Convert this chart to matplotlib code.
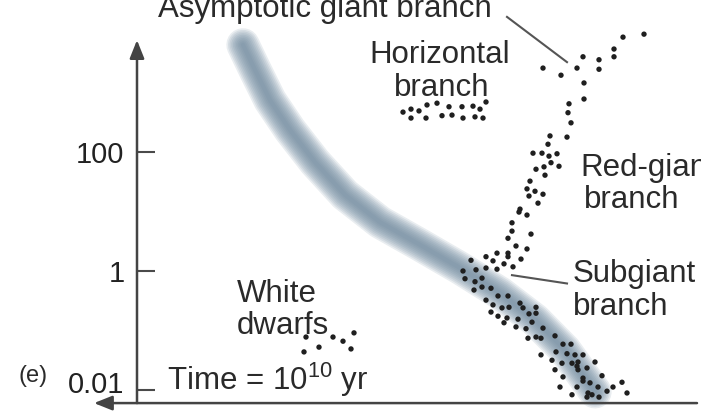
import matplotlib.pyplot as plt
import matplotlib.transforms as mtransforms
import numpy as np
from matplotlib.ticker import NullLocator

plt.rcParams['font.family'] = ['Liberation Sans', 'DejaVu Sans']
plt.rcParams['mathtext.fontset'] = 'custom'
plt.rcParams['mathtext.rm'] = 'Liberation Sans'

# x: arbitrary colour / temperature units, y: log10 luminosity (solar)
agb_x = [48.6, 50.7, 47.7, 47.7, 44.6, 46.2, 46.2, 40.6, 42.4, 44.0, 44.7, 44.7, 43.2]
agb_logL = [3.93, 3.98, 3.73, 3.60, 3.60, 3.55, 3.39, 3.41, 3.29, 3.41, 3.16, 2.89, 2.81]

rgb_x = [43.1, 43.4, 43.0, 41.3, 41.1, 39.6, 40.5, 41.2, 42.0, 41.4, 42.2, 39.9, 40.7,
         40.8, 39.3, 39.0, 39.8, 40.6, 39.2, 40.1, 38.3, 38.2, 39.0, 37.5, 37.5, 39.4,
         37.1, 37.9, 39.0, 37.1, 37.1, 36.0, 38.4, 34.9, 35.6, 36.7, 37.6, 36.0, 34.9,
         33.9, 33.4]
rgb_logL = [2.66, 2.49, 2.25, 2.27, 2.13, 1.98, 1.98, 1.93, 1.97, 1.82, 1.76, 1.71, 1.75,
            1.61, 1.51, 1.38, 1.34, 1.29, 1.26, 1.14, 1.04, 0.99, 0.94, 0.81, 0.67, 0.62,
            0.55, 0.42, 0.37, 0.30, 0.24, 0.30, 0.20, 0.24, 0.17, 0.12, 0.07, 0.03, 0.05,
            0.02, 0.18]

hb_x = [26.6, 27.4, 28.2, 29.0, 30.0, 31.2, 32.5, 33.6, 34.3, 34.9,
        27.4, 28.9, 30.5, 31.5, 32.6, 33.8, 34.6]
hb_logL = [2.67, 2.72, 2.69, 2.79, 2.82, 2.76, 2.76, 2.77, 2.72, 2.84,
           2.57, 2.57, 2.61, 2.62, 2.57, 2.59, 2.57]

wd_x = [16.9, 19.6, 20.6, 21.7, 16.7, 18.2, 21.4]
wd_logL = [-1.11, -1.11, -1.18, -1.04, -1.36, -1.28, -1.31]

ms_x = [32.6, 32.8, 33.8, 34.5, 34.5, 33.7, 35.4, 36.1, 37.1, 34.9, 35.6, 36.5, 37.2,
        38.3, 38.6, 39.9, 35.4, 36.1, 37.0, 39.2, 39.9, 38.1, 36.7, 37.9, 39.5, 38.9,
        40.6, 39.9, 39.1, 40.4, 41.8, 42.6, 43.4, 41.9, 40.4, 43.0, 43.8, 44.6, 41.5,
        42.5, 43.5, 44.1, 44.0, 45.8, 45.0, 41.8, 44.1, 42.6, 44.6, 46.5, 44.6, 45.3,
        48.5, 42.3, 44.0, 46.1, 47.6, 47.0, 45.1, 43.5, 45.5, 49.0, 46.2, 45.0]
ms_logL = [0.00, -0.13, -0.18, -0.12, -0.27, -0.32, -0.29, -0.42, -0.42, -0.49, -0.57,
           -0.62, -0.61, -0.54, -0.62, -0.61, -0.69, -0.76, -0.79, -0.72, -0.71, -0.81,
           -0.87, -0.94, -0.86, -0.97, -0.96, -1.11, -1.13, -1.13, -1.09, -1.23, -1.23,
           -1.36, -1.41, -1.39, -1.41, -1.41, -1.50, -1.55, -1.55, -1.53, -1.60, -1.53,
           -1.63, -1.66, -1.66, -1.78, -1.80, -1.76, -1.85, -1.88, -1.87, -1.95, -1.95,
           -1.95, -1.95, -2.02, -2.05, -2.08, -2.08, -2.05, -2.12, -2.12]

# original (zero-age) main sequence band
band_x = [10.6, 11.8, 13.3, 15.3, 17.8, 20.8, 24.3, 28.3, 32.3, 36.3, 39.8, 42.8, 44.8, 45.8]
band_logL = [3.80, 3.38, 2.87, 2.37, 1.83, 1.28, 0.82, 0.44, 0.05, -0.37, -0.82, -1.33,
             -1.80, -2.03]

tick_vals = [100, 1, 0.01]
tick_labels = ['100', '1', '0.01']

fig = plt.figure(figsize=(7.01, 4.11), dpi=100)
ax = fig.add_axes([90 / 701, 0, 610 / 701, 391 / 411])
ax.set_xlim(-4.7, 56.3)
ax.set_yscale('log')
ax.set_ylim(10 ** -2.353, 10 ** 4.218)

for s in ax.spines.values():
    s.set_visible(False)
ax.spines['left'].set_position(('data', 0))
ax.set_xticks([])
ax.set_yticks(tick_vals)
ax.set_yticklabels(tick_labels)
ax.yaxis.set_minor_locator(NullLocator())
ax.tick_params(axis='y', direction='in', length=13, width=1.5, color='#4a4a4a',
               pad=9, labelsize=21, labelcolor='#222222')
# the bottom label sits a little above its tick in the original
lab = ax.get_yticklabels()[2]
lab.set_transform(lab.get_transform() +
                  mtransforms.ScaledTranslation(0, 6 / 72, fig.dpi_scale_trans))

# soft, blurred band: many faint round-capped strokes
bx = np.array(band_x)
by = 10 ** np.array(band_logL)
for lw in np.linspace(24, 3, 10):
    ax.plot(bx, by, color='#6d879d', lw=lw, alpha=0.15, solid_capstyle='round',
            solid_joinstyle='round', zorder=1)

# stars
xs = agb_x + rgb_x + hb_x + wd_x + ms_x
ys = agb_logL + rgb_logL + hb_logL + wd_logL + ms_logL
ax.scatter(xs, 10 ** np.array(ys), s=15, color='#1f1f1f', edgecolors='none', zorder=3)

# axes with arrows
y_axis_low = -2.22
arrow = dict(arrowstyle='-|>,head_length=0.55,head_width=0.22', mutation_scale=20,
             color='#444444', lw=1.8, shrinkA=0, shrinkB=0)
ax.annotate('', xy=(0, 10 ** 3.88), xytext=(0, 10 ** y_axis_low), arrowprops=arrow)
ax.annotate('', xy=(-4.3, 10 ** y_axis_low), xytext=(56.0, 10 ** y_axis_low),
            arrowprops=arrow)

# leader lines
ax.plot([37.0, 43.0], [10 ** 4.27, 10 ** 3.51], color='#555555', lw=1.5, clip_on=False)
ax.plot([37.5, 43.0], [10 ** -0.07, 10 ** -0.21], color='#555555', lw=1.5)

tc = '#2a2a2a'
fs = 22.5
ax.text(18.8, 10 ** 4.27, 'Asymptotic giant branch', ha='center', va='baseline',
        fontsize=fs, color=tc)
ax.text(30.3, 10 ** 3.50, 'Horizontal', ha='center', va='baseline', fontsize=fs, color=tc)
ax.text(30.5, 10 ** 2.94, 'branch', ha='center', va='baseline', fontsize=fs, color=tc)
ax.text(44.3, 10 ** 1.60, 'Red-giant', ha='left', va='baseline', fontsize=fs, color=tc)
ax.text(44.7, 10 ** 1.06, 'branch', ha='left', va='baseline', fontsize=fs, color=tc)
ax.text(43.6, 10 ** -0.18, 'Subgiant', ha='left', va='baseline', fontsize=fs, color=tc)
ax.text(43.6, 10 ** -0.74, 'branch', ha='left', va='baseline', fontsize=fs, color=tc)
ax.text(10.0, 10 ** -0.52, 'White', ha='left', va='baseline', fontsize=fs, color=tc)
ax.text(10.0, 10 ** -1.06, 'dwarfs', ha='left', va='baseline', fontsize=fs, color=tc)
ax.text(3.0, 10 ** -2.00, r'Time = 10$^{\mathrm{10}}$ yr', ha='left', va='baseline',
        fontsize=fs, color=tc)
ax.text(-11.9, 10 ** -1.87, '(e)', ha='left', va='baseline', fontsize=17, color=tc)

fig.savefig('out.png', dpi=100)
